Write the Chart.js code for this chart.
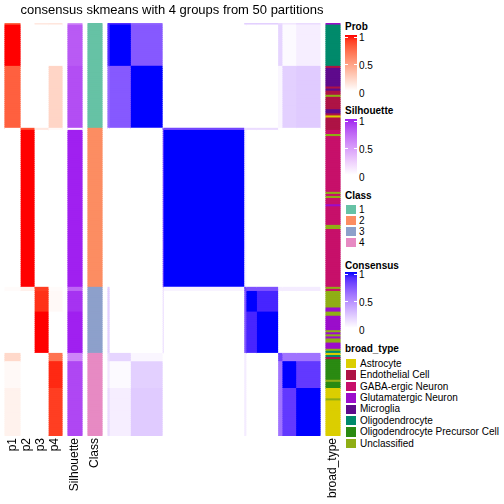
<!DOCTYPE html>
<html><head><meta charset="utf-8">
<script src="https://cdn.jsdelivr.net/npm/chart.js@4.4.0/dist/chart.umd.min.js"></script>
<style>
html,body{margin:0;padding:0;background:#fff;}
#wrap{position:relative;width:504px;height:504px;overflow:hidden;font-family:"Liberation Sans",Arial,sans-serif;background:#fff;}
#cv{position:absolute;left:0;top:0;width:344px;height:504px;}
.lt{position:absolute;font-size:10px;font-weight:bold;line-height:12px;color:#000;white-space:nowrap;}
.ll{position:absolute;font-size:10px;line-height:12px;color:#000;white-space:nowrap;}
.bar{position:absolute;width:12px;}
.sw{position:absolute;width:12px;box-sizing:border-box;border:1px solid #fff;}
.tk{position:absolute;width:3px;height:1px;background:#fff;}
</style></head>
<body><div id="wrap"><div id="cv"><canvas id="c" width="344" height="504"></canvas></div><div id="leg"></div></div>
<script>
// ---------------- DATA ----------------
const titleText = 'consensus skmeans with 4 groups from 50 partitions';
// sample sub-groups (rows/columns of the consensus matrix, in order)
const subgroups      = ['a0','A','B','b0','G2','c0','E','F','d0','C','D'];
const subgroupSizes  = [1, 20, 30, 1, 76, 2, 10, 20, 4, 13, 23];
const subgroupClass  = [1, 1, 1, 2, 2, 3, 3, 3, 4, 4, 4];
const probP1     = [0.75, 1, 0.78, 0, 0, 0.02, 0, 0, 0.2, 0.03, 0.07];
const probP2     = [0, 0, 0, 0.85, 1, 0.08, 0, 0, 0, 0, 0];
const probP3     = [0.12, 0, 0, 0.12, 0, 0.9, 0.93, 1, 0, 0, 0];
const probP4     = [0.13, 0, 0.22, 0.03, 0, 0.02, 0.03, 0, 0.7, 0.95, 0.9];
const silhouette = [0.55, 0.8, 0.85, 0.02, 1, 0.75, 0.95, 1, 0.6, 0.88, 0.88];
const consensus = [
  [0.9, 0.9, 0.65, 0, 0, 0.2, 0.2, 0.2, 0.15, 0.1, 0.15],
  [0.9, 1, 0.72, 0, 0, 0, 0, 0, 0.18, 0.02, 0.07],
  [0.65, 0.72, 1, 0, 0, 0, 0, 0, 0.04, 0.2, 0.22],
  [0, 0, 0, 0.8, 0.8, 0.15, 0.15, 0.15, 0, 0, 0],
  [0, 0, 0, 0.8, 1, 0.05, 0, 0, 0, 0, 0],
  [0.2, 0, 0, 0.15, 0.05, 0.8, 0.75, 0.75, 0.08, 0.08, 0.08],
  [0.2, 0, 0, 0.15, 0, 0.75, 1, 0.92, 0, 0, 0],
  [0.2, 0, 0, 0.15, 0, 0.75, 0.92, 1, 0, 0, 0],
  [0.15, 0.18, 0.04, 0, 0, 0.08, 0, 0, 0.8, 0.6, 0.6],
  [0.1, 0.02, 0.2, 0, 0, 0.08, 0, 0, 0.6, 1, 0.85],
  [0.15, 0.07, 0.22, 0, 0, 0.08, 0, 0, 0.6, 0.85, 1]
];
const classLabels = ['1','2','3','4'];
const broadTypes = ['Astrocyte','Endothelial Cell','GABA-ergic Neuron','Glutamatergic Neuron','Microglia','Oligodendrocyte','Oligodendrocyte Precursor Cell','Unclassified'];
// runs of broad_type along the samples (type, count)
const broadRuns = [
  ['Glutamatergic Neuron',1],['Oligodendrocyte',20],['Endothelial Cell',1],['Microglia',9],['Endothelial Cell',1],
  ['Microglia',1],['Endothelial Cell',2],['Unclassified',1],['Endothelial Cell',6],['Microglia',2],['Endothelial Cell',1],
  ['Astrocyte',1],['Endothelial Cell',6],
  ['GABA-ergic Neuron',2],['Unclassified',1],['GABA-ergic Neuron',27],['Unclassified',1],['GABA-ergic Neuron',1],
  ['Unclassified',1],['GABA-ergic Neuron',3],['Glutamatergic Neuron',1],['GABA-ergic Neuron',9],['Unclassified',2],
  ['GABA-ergic Neuron',28],
  ['Unclassified',1],['GABA-ergic Neuron',1],['Unclassified',8],['Glutamatergic Neuron',2],['Unclassified',2],
  ['Glutamatergic Neuron',7],['Unclassified',1],['Glutamatergic Neuron',1],['Unclassified',1],['Glutamatergic Neuron',1],
  ['Unclassified',2],['Glutamatergic Neuron',3],['Unclassified',1],['Oligodendrocyte',1],
  ['Astrocyte',1],['Oligodendrocyte',1],['Endothelial Cell',1],['Oligodendrocyte Precursor Cell',10],['Unclassified',1],
  ['Oligodendrocyte Precursor Cell',3],['Astrocyte',5],['Unclassified',1],['Astrocyte',17]
];
const columnLabels = ['p1','p2','p3','p4','Silhouette','Class','broad_type'];
const legendTicks = ['1','0.5','0'];

// ---------------- STYLE / LAYOUT ----------------
const classColors = ['#66C2A5','#FC8D62','#8DA0CB','#E78AC3'];
const broadColors = ['#DBCE00','#AE1345','#C7106A','#9B0DCB','#5E0A8C','#008A6B','#2A8A12','#8FAE15'];
const slots = {p1:[5,20],p2:[20,34],p3:[34,48],p4:[48,62],Silhouette:[68,82],Class:[88,102],broad_type:[326,340]};
const MATRIX = [108,320];

// LAB interpolation (like colorRamp2)
function lin(c){c/=255;return c<=0.04045?c/12.92:Math.pow((c+0.055)/1.055,2.4);}
function unlin(c){c=c<=0.0031308?12.92*c:1.055*Math.pow(c,1/2.4)-0.055;return Math.round(Math.min(1,Math.max(0,c))*255);}
function hexToRgb(h){return [parseInt(h.slice(1,3),16),parseInt(h.slice(3,5),16),parseInt(h.slice(5,7),16)];}
function f(t){return t>0.008856?Math.cbrt(t):7.787*t+16/116;}
function finv(t){const t3=t*t*t;return t3>0.008856?t3:(t-16/116)/7.787;}
function rgbToLab(rgb){const r=lin(rgb[0]),g=lin(rgb[1]),b=lin(rgb[2]);
  const X=(0.4124564*r+0.3575761*g+0.1804375*b)/0.95047,Y=0.2126729*r+0.7151522*g+0.0721750*b,Z=(0.0193339*r+0.1191920*g+0.9503041*b)/1.08883;
  const fx=f(X),fy=f(Y),fz=f(Z);return [116*fy-16,500*(fx-fy),200*(fy-fz)];}
function labToRgb(L,a,bb){const fy=(L+16)/116,fx=fy+a/500,fz=fy-bb/200;
  const X=finv(fx)*0.95047,Y=finv(fy),Z=finv(fz)*1.08883;
  const r=3.2404542*X-1.5371385*Y-0.4985314*Z,g=-0.9692660*X+1.8760108*Y+0.0415560*Z,b=0.0556434*X-0.2040259*Y+1.0572252*Z;
  return 'rgb('+unlin(r)+','+unlin(g)+','+unlin(b)+')';}
function ramp(c0,c1){const a=rgbToLab(hexToRgb(c0)),b=rgbToLab(hexToRgb(c1));
  return t=>{t=Math.max(0,Math.min(1,t));return labToRgb(a[0]+(b[0]-a[0])*t,a[1]+(b[1]-a[1])*t,a[2]+(b[2]-a[2])*t);};}
const probRamp = ramp('#FFFFFF','#FF0000');
const silRamp = ramp('#FFFFFF','#A020F0');
const consRamp = ramp('#FFFFFF','#0000FF');

// ---------------- BUILD ----------------
const sampleSub = [];
subgroupSizes.forEach((n,g)=>{for(let i=0;i<n;i++)sampleSub.push(g);});
const N = sampleSub.length;
const sampleBroad = [];
broadRuns.forEach(([t,n])=>{for(let i=0;i<n;i++)sampleBroad.push(broadTypes.indexOf(t));});
const sampleLabels = sampleSub.map((_,i)=>'s'+(i+1));

const common = {grouped:false,borderWidth:0,barPercentage:1,categoryPercentage:1,inflateAmount:0.5};
function slotDataset(name,colorFn){
  return Object.assign({label:name,data:sampleSub.map(()=>slots[name].slice()),backgroundColor:sampleSub.map((g,i)=>colorFn(g,i))},common);
}
const datasets = [
  slotDataset('p1',g=>probRamp(probP1[g])),
  slotDataset('p2',g=>probRamp(probP2[g])),
  slotDataset('p3',g=>probRamp(probP3[g])),
  slotDataset('p4',g=>probRamp(probP4[g])),
  slotDataset('Silhouette',g=>silRamp(silhouette[g])),
  slotDataset('Class',g=>classColors[subgroupClass[g]-1])
];
const cw = (MATRIX[1]-MATRIX[0])/N;
let start = 0;
subgroups.forEach((name,j)=>{
  const x0 = MATRIX[0]+start*cw, x1 = MATRIX[0]+(start+subgroupSizes[j])*cw;
  datasets.push(Object.assign({label:'consensus '+name,data:sampleSub.map(()=>[x0,x1]),
    backgroundColor:sampleSub.map(g=>consRamp(consensus[g][j]))},common));
  start += subgroupSizes[j];
});
datasets.push(slotDataset('broad_type',(g,i)=>broadColors[sampleBroad[i]]));

const tickPos = columnLabels.map(l=>(slots[l][0]+slots[l][1])/2);

new Chart(document.getElementById('c'),{
  type:'bar',
  data:{labels:sampleLabels,datasets},
  options:{
    indexAxis:'y',responsive:false,animation:false,events:[],devicePixelRatio:1,
    layout:{padding:0},
    plugins:{
      legend:{display:false},tooltip:{enabled:false},
      title:{display:true,text:titleText,color:'#000',
        font:{family:'"Liberation Sans", Arial, sans-serif',size:13,weight:'normal',lineHeight:1.2},
        padding:{top:3,bottom:4.4}}
    },
    scales:{
      y:{type:'category',display:false,offset:true,grid:{display:false}},
      x:{type:'linear',min:0,max:344,position:'bottom',
        grid:{display:false,drawTicks:false},border:{display:false},
        afterBuildTicks:s=>{s.ticks=tickPos.map(v=>({value:v}));},
        afterFit:s=>{s.height=68;s.paddingLeft=0;s.paddingRight=0;},
        ticks:{autoSkip:false,minRotation:90,maxRotation:90,padding:2,color:'#000',
          font:{family:'"Liberation Sans", Arial, sans-serif',size:12},
          callback:v=>{const k=tickPos.findIndex(p=>Math.abs(p-v)<0.01);return k>=0?columnLabels[k]:'';}}
      }
    }
  }
});

// ---------------- LEGENDS (HTML) ----------------
const leg = document.getElementById('leg');
function el(cls,css,text){const d=document.createElement('div');d.className=cls;Object.assign(d.style,css);if(text!==undefined)d.textContent=text;leg.appendChild(d);return d;}
function contLegend(title,titleTop,barTop,rf){
  el('lt',{left:'345px',top:titleTop+'px'},title);
  const stops=[];for(let k=0;k<=10;k++){stops.push(rf(1-k/10)+' '+(k*10)+'%');}
  el('bar',{left:'345px',top:barTop+'px',height:'56px',background:'linear-gradient(to bottom,'+stops.join(',')+')'});
  const offs=[3,30.5,58.5];
  legendTicks.forEach((t,k)=>{
    el('ll',{left:'359px',top:(barTop+offs[k]-6)+'px'},t);
    const ty=Math.min(barTop+55,barTop+2+k*27);
    el('tk',{left:'345px',top:ty+'px'});el('tk',{left:'354px',top:ty+'px'});
  });
}
contLegend('Prob',21,35,probRamp);
contLegend('Silhouette',105,119,silRamp);
contLegend('Consensus',260,272,consRamp);
function discLegend(title,titleTop,swTop,step,labels,colors,lx){
  el('lt',{left:'345px',top:titleTop+'px'},title);
  labels.forEach((l,k)=>{
    el('sw',{left:'345px',top:(swTop+k*step)+'px',height:step+'px',background:colors[k]});
    el('ll',{left:lx+'px',top:(swTop+k*step+step/2-6)+'px'},l);
  });
}
discLegend('Class',190,204,11,classLabels,classColors,359);
discLegend('broad_type',343,358,11.4,broadTypes,broadColors,360);
</script>
</body></html>
